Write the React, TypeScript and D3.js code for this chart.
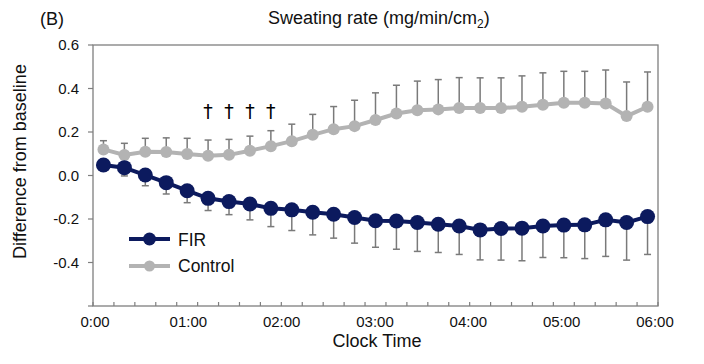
import React from "react";
import * as d3 from "d3";

const categories = ["1","2","3","4","5","6","7","8","9","10","11","12","13","14","15","16","17","18","19","20","21","22","23","24","25","26","27"];
const controlMean = [0.12,0.094,0.109,0.108,0.099,0.091,0.095,0.114,0.135,0.158,0.187,0.213,0.227,0.255,0.285,0.300,0.304,0.310,0.310,0.310,0.316,0.325,0.334,0.334,0.331,0.273,0.316];
const controlSD = [0.04,0.054,0.062,0.065,0.072,0.072,0.071,0.067,0.071,0.078,0.094,0.104,0.119,0.125,0.13,0.134,0.137,0.14,0.139,0.139,0.142,0.147,0.145,0.145,0.154,0.157,0.16];
const firMean = [0.048,0.036,0.002,-0.033,-0.070,-0.105,-0.120,-0.131,-0.151,-0.158,-0.169,-0.178,-0.193,-0.208,-0.209,-0.216,-0.224,-0.232,-0.250,-0.244,-0.242,-0.232,-0.228,-0.227,-0.204,-0.216,-0.189];
const firSD = [0.025,0.038,0.049,0.052,0.055,0.056,0.060,0.073,0.084,0.095,0.104,0.110,0.118,0.122,0.130,0.133,0.130,0.131,0.138,0.145,0.150,0.145,0.150,0.155,0.168,0.173,0.174];
const daggerCategories = ["6","7","8","9"];
const hourTicks = [0,1,2,3,4,5,6];
const hourLabels = ["0:00","01:00","02:00","03:00","04:00","05:00","06:00"];
const yTicks = [0.6,0.4,0.2,0.0,-0.2,-0.4,-0.6];
const yTickLabels = ["0.6","0.4","0.2","0.0","-0.2","-0.4",""];

const NAVY = "#0c1a5e";
const GREY = "#b3b3b3";
const BAR = "#7a7a7a";
const AXIS = "#7f7f7f";
const FONT = "'Liberation Sans', Arial, Helvetica, sans-serif";

export default function App() {
  const left = 93, right = 658, top = 45, bottom = 306;
  const x = d3.scaleBand<string>().domain(categories).range([left, right]).padding(0);
  const cx = (c: string) => (x(c) as number) + x.bandwidth() / 2;
  const xh = d3.scaleLinear().domain([0, 6]).range([95, 655]);
  const y = d3.scaleLinear().domain([-0.6, 0.6]).range([bottom, top]);

  const line = d3.line<number>().x((_, i) => cx(categories[i])).y((d) => y(d));
  const boundaries = categories.map((c) => x(c) as number).concat([right]);
  const cap = 3.5;

  return (
    <svg width={704} height={364} style={{ position: "absolute", left: 0, top: 0, background: "#fff" }} fontFamily={FONT}>
      <rect x={0} y={0} width={704} height={364} fill="#fff" />
      <text x={40} y={25} fontSize={18} fill="#111">(B)</text>
      <text x={268} y={24} fontSize={18} fill="#111">
        Sweating rate (mg/min/cm<tspan fontSize={12} dy={4}>2</tspan><tspan dy={-4}>)</tspan>
      </text>

      {/* frame */}
      <rect x={left} y={top} width={right - left} height={bottom - top} fill="none" stroke={AXIS} strokeWidth={1.3} />

      {/* y ticks */}
      {yTicks.map((t, i) => (
        <g key={"y" + i}>
          <line x1={left - 5} x2={left} y1={y(t)} y2={y(t)} stroke={AXIS} strokeWidth={1.2} />
          <text x={79} y={y(t) + 5} fontSize={15} textAnchor="end" fill="#111">{yTickLabels[i]}</text>
        </g>
      ))}
      <text transform={`translate(26,${(top + bottom) / 2 - 14}) rotate(-90)`} fontSize={18} textAnchor="middle" fill="#111">
        Difference from baseline
      </text>

      {/* x ticks */}
      {boundaries.map((b, i) => (
        <line key={"xt" + i} x1={b} x2={b} y1={bottom - 4} y2={bottom} stroke={AXIS} strokeWidth={1.2} />
      ))}
      {hourTicks.map((h, i) => (
        <text key={"xl" + i} x={xh(h)} y={327} fontSize={15} textAnchor="middle" fill="#111">{hourLabels[i]}</text>
      ))}
      <text x={377} y={347} fontSize={18} textAnchor="middle" fill="#111">Clock Time</text>

      {/* error bars */}
      {categories.map((c, i) => (
        <g key={"ce" + i} stroke={BAR} strokeWidth={1.5}>
          <line x1={cx(c)} x2={cx(c)} y1={y(controlMean[i])} y2={y(controlMean[i] + controlSD[i])} />
          <line x1={cx(c) - cap} x2={cx(c) + cap} y1={y(controlMean[i] + controlSD[i])} y2={y(controlMean[i] + controlSD[i])} />
        </g>
      ))}
      {categories.map((c, i) => (
        <g key={"fe" + i} stroke={BAR} strokeWidth={1.5}>
          <line x1={cx(c)} x2={cx(c)} y1={y(firMean[i])} y2={y(firMean[i] - firSD[i])} />
          <line x1={cx(c) - cap} x2={cx(c) + cap} y1={y(firMean[i] - firSD[i])} y2={y(firMean[i] - firSD[i])} />
        </g>
      ))}

      {/* control series */}
      <path d={line(controlMean) || ""} fill="none" stroke={GREY} strokeWidth={4} />
      {categories.map((c, i) => (
        <circle key={"cc" + i} cx={cx(c)} cy={y(controlMean[i])} r={6} fill={GREY} />
      ))}
      {/* FIR series */}
      <path d={line(firMean) || ""} fill="none" stroke={NAVY} strokeWidth={4} />
      {categories.map((c, i) => (
        <circle key={"fc" + i} cx={cx(c)} cy={y(firMean[i])} r={7.5} fill={NAVY} />
      ))}

      {/* daggers */}
      {daggerCategories.map((c) => (
        <text key={"d" + c} x={cx(c)} y={118} fontSize={19} textAnchor="middle" fill="#000" fontFamily="'DejaVu Sans', sans-serif">†</text>
      ))}

      {/* legend */}
      <line x1={129} x2={170} y1={239} y2={239} stroke={NAVY} strokeWidth={4} />
      <circle cx={149.5} cy={239} r={6.5} fill={NAVY} />
      <text x={178} y={245.5} fontSize={17.5} fill="#111">FIR</text>
      <line x1={129} x2={170} y1={266} y2={266} stroke={GREY} strokeWidth={4} />
      <circle cx={149.5} cy={266} r={5.5} fill={GREY} />
      <text x={178} y={272} fontSize={17.5} fill="#111">Control</text>
    </svg>
  );
}
